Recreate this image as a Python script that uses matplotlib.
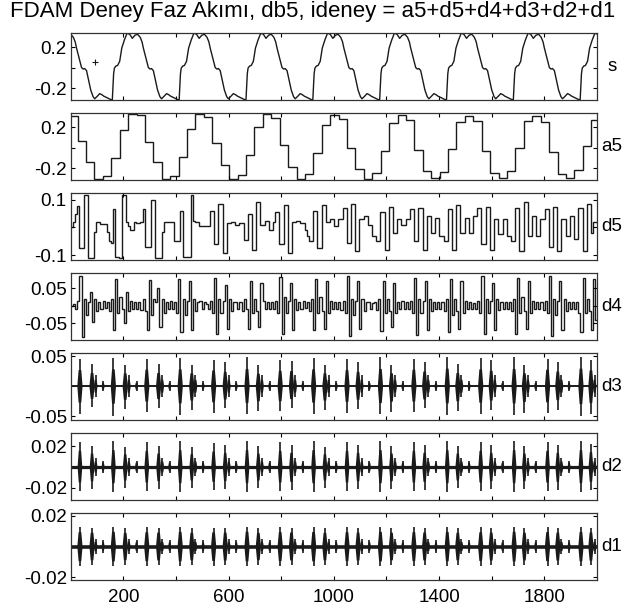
import numpy as np
import matplotlib
matplotlib.use('Agg')
import matplotlib.pyplot as plt

plt.rcParams['font.family'] = ['Liberation Sans', 'DejaVu Sans']

title = 'FDAM Deney Faz Akımı, db5, ideney = a5+d5+d4+d3+d2+d1'
names = ['s', 'a5', 'd5', 'd4', 'd3', 'd2', 'd1']
n_samples = 2000

# s: one period (offset from rising edge, value) + period starts
s_off = [0, 5, 8, 14, 20, 28, 36, 46, 56, 66, 76, 86, 96, 106, 113, 118, 125, 131,
         137, 143, 149, 156, 162, 172, 181, 187, 197, 206, 214, 222, 230, 238, 246, 251]
s_val = [-0.315, -0.06, -0.005, 0.015, 0.02, 0.06, 0.19, 0.27, 0.335, 0.325, 0.285,
         0.315, 0.325, 0.295, 0.25, 0.19, 0.12, 0.06, 0.0, -0.015, -0.01, -0.03, -0.1,
         -0.22, -0.285, -0.305, -0.28, -0.255, -0.265, -0.28, -0.29, -0.30, -0.31, -0.315]
s_starts = [-96, 158, 412, 666, 920, 1174, 1428, 1682, 1936]
s_marker = (92, 0.054)

# a5: 32-sample steps (first one from 1 to 26)
a5_lv = [0.31, 0.06, -0.14, -0.305, -0.28, -0.10, 0.17, 0.33,
         0.315, 0.055, -0.145, -0.305, -0.28, -0.09, 0.18, 0.33,
         0.30, 0.04, -0.17, -0.31, -0.27, -0.07, 0.20, 0.325,
         0.29, 0.02, -0.19, -0.31, -0.26, -0.05, 0.22, 0.32,
         0.28, 0.0, -0.21, -0.305, -0.25, -0.03, 0.24, 0.315,
         0.27, -0.02, -0.23, -0.30, -0.24, -0.01, 0.25, 0.31,
         0.26, -0.03, -0.25, -0.30, -0.23, 0.0, 0.26, 0.305,
         0.25, -0.04, -0.26, -0.30, -0.22, 0.01, 0.27]

# d5: 8-sample steps
d5_lv = [0.0, 0.02, 0.05, 0.077, -0.074, -0.074, 0.115, 0.115, -0.11, -0.11, -0.11, -0.017, 0.018, 0.018, 0.012, 0.012,
         0.012, -0.017, -0.05, -0.055, 0.065, -0.105, -0.105, -0.11, 0.115, 0.115, 0.02, 0.005, -0.01, -0.01, 0.02, 0.015,
         0.015, 0.02, 0.065, -0.07, -0.07, -0.07, 0.10, 0.10, -0.11, -0.11, -0.11, -0.017, 0.018, 0.018, 0.018, 0.018,
         0.018, -0.05, -0.05, -0.05, 0.06, -0.105, -0.105, -0.105, -0.105, 0.115, 0.025, 0.018, 0.018, 0.005, 0.005, 0.005,
         0.005, 0.005, 0.06, 0.06, -0.06, -0.06, 0.085, 0.085, -0.09, -0.09, 0.015, 0.015, 0.02, 0.02, 0.01, 0.01,
         0.015, 0.015, -0.045, -0.045, 0.05, 0.05, -0.08, -0.08, 0.09, 0.09, 0.01, 0.01, 0.025, 0.025, -0.01, -0.01,
         0.02, 0.055, 0.055, -0.06, -0.06, 0.08, 0.08, -0.09, -0.09, 0.02, 0.02, 0.025, 0.025, 0.015, 0.015, -0.01,
         -0.03, -0.05, -0.05, 0.06, 0.06, -0.075, -0.075, 0.08, 0.08, 0.02, 0.02, 0.03, 0.03, 0.005, 0.005, 0.03,
         0.03, 0.07, 0.07, -0.055, -0.055, 0.085, 0.085, -0.085, -0.085, 0.03, 0.03, 0.04, 0.04, 0.01, 0.01, -0.03,
         -0.03, -0.05, -0.05, 0.055, 0.055, -0.08, -0.08, 0.075, 0.075, -0.02, -0.02, 0.03, 0.03, 0.01, 0.01, 0.03,
         0.03, 0.065, 0.065, -0.05, -0.05, 0.07, 0.07, -0.08, -0.08, 0.04, 0.04, -0.02, -0.02, 0.035, 0.035, -0.03,
         -0.03, -0.05, -0.05, 0.065, 0.065, -0.08, -0.08, 0.08, 0.08, -0.02, -0.02, 0.035, 0.035, -0.02, -0.02, 0.04,
         0.04, 0.07, 0.07, -0.06, -0.06, 0.075, 0.075, -0.08, -0.08, 0.03, 0.03, -0.025, -0.025, 0.03, 0.03, -0.03,
         -0.03, -0.05, -0.05, 0.07, 0.07, -0.085, -0.085, 0.09, 0.09, -0.03, -0.03, 0.04, 0.04, -0.03, -0.03, 0.03,
         0.03, 0.065, 0.065, -0.07, -0.07, 0.075, 0.075, -0.085, -0.085, 0.03, 0.03, -0.03, -0.03, 0.04, 0.04, -0.04,
         -0.04, 0.07, 0.07, -0.085, -0.085, 0.085, 0.085, -0.02, 0.02, 0.02]

# d4: 8-sample steps
d4_lv = [0.0, 0.005, -0.01, 0.015, 0.086, -0.089, 0.02, -0.025, 0.01, 0.04, -0.045, 0.02, -0.015, 0.012, -0.01, 0.015,
         -0.005, 0.01, -0.015, 0.02, -0.07, 0.075, -0.02, 0.025, -0.01, -0.05, 0.04, -0.015, 0.015, -0.01, 0.012, -0.008,
         0.01, -0.012, 0.02, -0.015, -0.07, 0.072, -0.025, 0.02, 0.01, 0.05, -0.06, 0.02, -0.02, 0.012, -0.01, 0.015,
         -0.01, 0.012, -0.02, 0.075, -0.075, 0.02, -0.025, 0.015, 0.07, -0.07, 0.02, -0.015, 0.01, 0.015, -0.01, 0.01,
         0.005, -0.01, 0.015, -0.02, 0.08, -0.08, 0.02, -0.02, 0.015, 0.06, -0.065, 0.02, -0.015, 0.01, 0.012, -0.01,
         0.01, -0.015, 0.02, -0.01, -0.065, 0.07, -0.02, 0.02, -0.015, -0.06, 0.065, 0.015, -0.01, 0.012, -0.008, 0.01,
         -0.01, 0.015, -0.02, 0.082, -0.08, 0.025, -0.02, 0.015, 0.065, -0.07, 0.02, -0.012, 0.01, -0.01, 0.015, -0.005,
         0.01, -0.015, 0.02, -0.07, 0.075, -0.02, 0.025, -0.015, -0.065, 0.07, -0.02, 0.015, -0.01, 0.012, -0.008, 0.01,
         -0.012, 0.015, -0.02, 0.085, -0.085, 0.02, -0.025, 0.015, 0.07, -0.065, 0.02, -0.015, 0.01, 0.012, -0.01, 0.008,
         0.01, -0.012, 0.02, -0.072, 0.07, -0.02, 0.02, -0.015, -0.06, 0.065, -0.02, 0.012, -0.01, 0.015, -0.01, 0.01,
         -0.01, 0.015, -0.02, 0.08, -0.082, 0.02, -0.02, 0.015, 0.07, -0.07, 0.02, -0.015, 0.012, -0.01, 0.01, -0.008,
         0.012, -0.015, 0.02, -0.075, 0.075, -0.025, 0.02, -0.015, -0.065, 0.07, -0.02, 0.015, -0.01, 0.012, -0.01, 0.008,
         -0.01, 0.015, -0.02, 0.085, -0.08, 0.02, -0.02, 0.015, 0.065, -0.07, 0.02, -0.012, 0.01, -0.01, 0.012, -0.01,
         0.01, -0.015, 0.02, -0.08, 0.078, -0.02, 0.025, -0.015, -0.065, 0.07, -0.02, 0.015, -0.01, 0.01, -0.01, 0.012,
         -0.012, 0.015, -0.02, 0.085, -0.085, 0.02, -0.025, 0.015, 0.07, -0.07, 0.02, -0.015, 0.012, -0.01, 0.01, -0.01,
         0.012, -0.02, -0.075, 0.08, -0.02, 0.02, -0.015, -0.07, 0.075, -0.04]

# d3, d2, d1: burst positions (samples) and spike extents
burst_pos = [35, 81, 162, 207, 289, 334, 416, 460, 543, 587, 670, 713, 796, 839, 923, 966,
             1050, 1092, 1177, 1219, 1304, 1345, 1431, 1471, 1558, 1598, 1685, 1724, 1812, 1851, 1939, 1977]
near_pos = [95, 221, 348, 474, 601, 727, 853, 980, 1106, 1233, 1359, 1485, 1612, 1738, 1865, 1991]
mid_pos = [123, 250, 376, 503, 629, 756, 882, 1009, 1135, 1262, 1388, 1514, 1641, 1767, 1894]

d3_top = [0.045, 0.037, 0.047, 0.036, 0.046, 0.037, 0.047, 0.036, 0.044, 0.040, 0.048, 0.035, 0.043, 0.042, 0.047, 0.036,
          0.045, 0.040, 0.048, 0.036, 0.046, 0.041, 0.049, 0.037, 0.047, 0.043, 0.048, 0.036, 0.046, 0.041, 0.049, 0.044]
d3_bot = [-0.046, -0.035, -0.049, -0.038, -0.043, -0.036, -0.048, -0.040, -0.045, -0.037, -0.047, -0.042, -0.042, -0.036, -0.046, -0.040,
          -0.044, -0.038, -0.047, -0.043, -0.043, -0.037, -0.048, -0.042, -0.046, -0.040, -0.048, -0.044, -0.045, -0.039, -0.050, -0.047]
d2_top = [0.024, 0.020, 0.025, 0.019, 0.024, 0.020, 0.025, 0.019, 0.023, 0.021, 0.025, 0.020, 0.024, 0.021, 0.025, 0.019,
          0.024, 0.021, 0.025, 0.020, 0.024, 0.021, 0.025, 0.020, 0.024, 0.021, 0.025, 0.020, 0.024, 0.021, 0.025, 0.022]
d2_bot = [-0.023, -0.021, -0.024, -0.020, -0.023, -0.021, -0.024, -0.020, -0.022, -0.021, -0.024, -0.020, -0.023, -0.022, -0.024, -0.020,
          -0.023, -0.021, -0.024, -0.021, -0.023, -0.022, -0.024, -0.020, -0.023, -0.021, -0.024, -0.021, -0.023, -0.022, -0.024, -0.022]
d1_top = [0.0125, 0.0120, 0.0128, 0.0118, 0.0124, 0.0121, 0.0127, 0.0119, 0.0123, 0.0121, 0.0128, 0.0118, 0.0125, 0.0122, 0.0127, 0.0119,
          0.0124, 0.0121, 0.0128, 0.0120, 0.0125, 0.0122, 0.0127, 0.0119, 0.0124, 0.0121, 0.0128, 0.0120, 0.0125, 0.0121, 0.0127, 0.0122]
d1_bot = [-0.0128, -0.0120, -0.0130, -0.0119, -0.0127, -0.0121, -0.0129, -0.0120, -0.0126, -0.0122, -0.0130, -0.0119, -0.0127, -0.0121, -0.0129, -0.0120,
          -0.0127, -0.0122, -0.0130, -0.0120, -0.0127, -0.0121, -0.0129, -0.0120, -0.0126, -0.0122, -0.0130, -0.0121, -0.0127, -0.0122, -0.0129, -0.0123]
near_amp = {'d3': 0.018, 'd2': 0.009, 'd1': 0.005}
mid_amp = {'d3': 0.008, 'd2': 0.006, 'd1': 0.004}

ylims = {'s': (-0.32, 0.34), 'a5': (-0.32, 0.34), 'd5': (-0.118, 0.125), 'd4': (-0.098, 0.094),
         'd3': (-0.057, 0.056), 'd2': (-0.032, 0.033), 'd1': (-0.022, 0.022)}
yticks = {'s': 0.2, 'a5': 0.2, 'd5': 0.1, 'd4': 0.05, 'd3': 0.05, 'd2': 0.02, 'd1': 0.02}
xtick_pos = [200, 400, 600, 800, 1000, 1200, 1400, 1600, 1800]
xtick_lab = ['200', '', '600', '', '1000', '', '1400', '', '1800']

# burst drawing style per panel: core fraction, half width (samples), baseline width
burst_style = {'d3': (0.6, 10, 1.4), 'd2': (0.65, 9, 2.3), 'd1': (0.75, 10, 2.6)}

W, H = 628, 613
fig = plt.figure(figsize=(W / 100, H / 100), dpi=100)
fig.text(313 / W, 1 - 12 / H, title, ha='center', va='center', fontsize=16)

lc = '#1a1a1a'


def draw_bursts(ax, pos, top, bot, core, w):
    for p, t, b in zip(pos, top, bot):
        ax.fill([p - w, p - w / 2, p + w / 2, p + w, p + w / 2, p - w / 2],
                [0, core * t, core * t, 0, core * b, core * b], color=lc, lw=0)
        ax.vlines(p, b, t, color=lc, lw=1.2)


for i, name in enumerate(names):
    top_px = 32.7 + 80 * i
    ax = fig.add_axes([71 / W, 1 - (top_px + 67.6) / H, 526 / W, 67.6 / H])

    if name == 's':
        xs, ys = [], []
        for st in s_starts:
            xs += [st + o for o in s_off]
            ys += s_val
        ax.plot(xs, ys, color=lc, lw=1.0)
        ax.plot(*s_marker, marker='+', color=lc, ms=4, mew=0.8)
    elif name == 'a5':
        edges = np.concatenate([[1], 26 + 32 * np.arange(len(a5_lv))])
        ax.stairs(a5_lv, edges, color=lc, lw=1.0, baseline=None)
    elif name == 'd5':
        ax.stairs(d5_lv, 1 + 8 * np.arange(len(d5_lv) + 1), color=lc, lw=1.0, baseline=None)
    elif name == 'd4':
        ax.stairs(d4_lv, 1 + 8 * np.arange(len(d4_lv) + 1), color=lc, lw=1.0, baseline=None)
    else:
        top = {'d3': d3_top, 'd2': d2_top, 'd1': d1_top}[name]
        bot = {'d3': d3_bot, 'd2': d2_bot, 'd1': d1_bot}[name]
        core, w, base_lw = burst_style[name]
        ax.axhline(0, color=lc, lw=base_lw)
        draw_bursts(ax, burst_pos, top, bot, core, w)
        na, ma = near_amp[name], mid_amp[name]
        draw_bursts(ax, near_pos, [na] * len(near_pos), [-na] * len(near_pos), 0.6, 7)
        draw_bursts(ax, mid_pos, [ma] * len(mid_pos), [-ma] * len(mid_pos), 0.7, 6)

    ax.set_xlim(1, n_samples)
    ax.set_ylim(*ylims[name])
    t = yticks[name]
    ax.set_yticks([-t, 0, t])
    ax.set_yticklabels(['%g' % -t, '', '%g' % t])
    ax.set_xticks(xtick_pos)
    if i == len(names) - 1:
        ax.set_xticklabels(xtick_lab)
    else:
        ax.set_xticklabels([])
    ax.tick_params(direction='in', length=3, width=0.8, top=True, right=True,
                   labelsize=13.5, colors='black')
    ax.tick_params(axis='y', pad=3)
    ax.tick_params(axis='x', pad=6)
    for sp in ax.spines.values():
        sp.set_linewidth(0.9)
        sp.set_color('#333333')
    fig.text(612 / W, 1 - (top_px + 33.8) / H, name, ha='center', va='center', fontsize=13.5)

fig.savefig('out.png', dpi=100)
